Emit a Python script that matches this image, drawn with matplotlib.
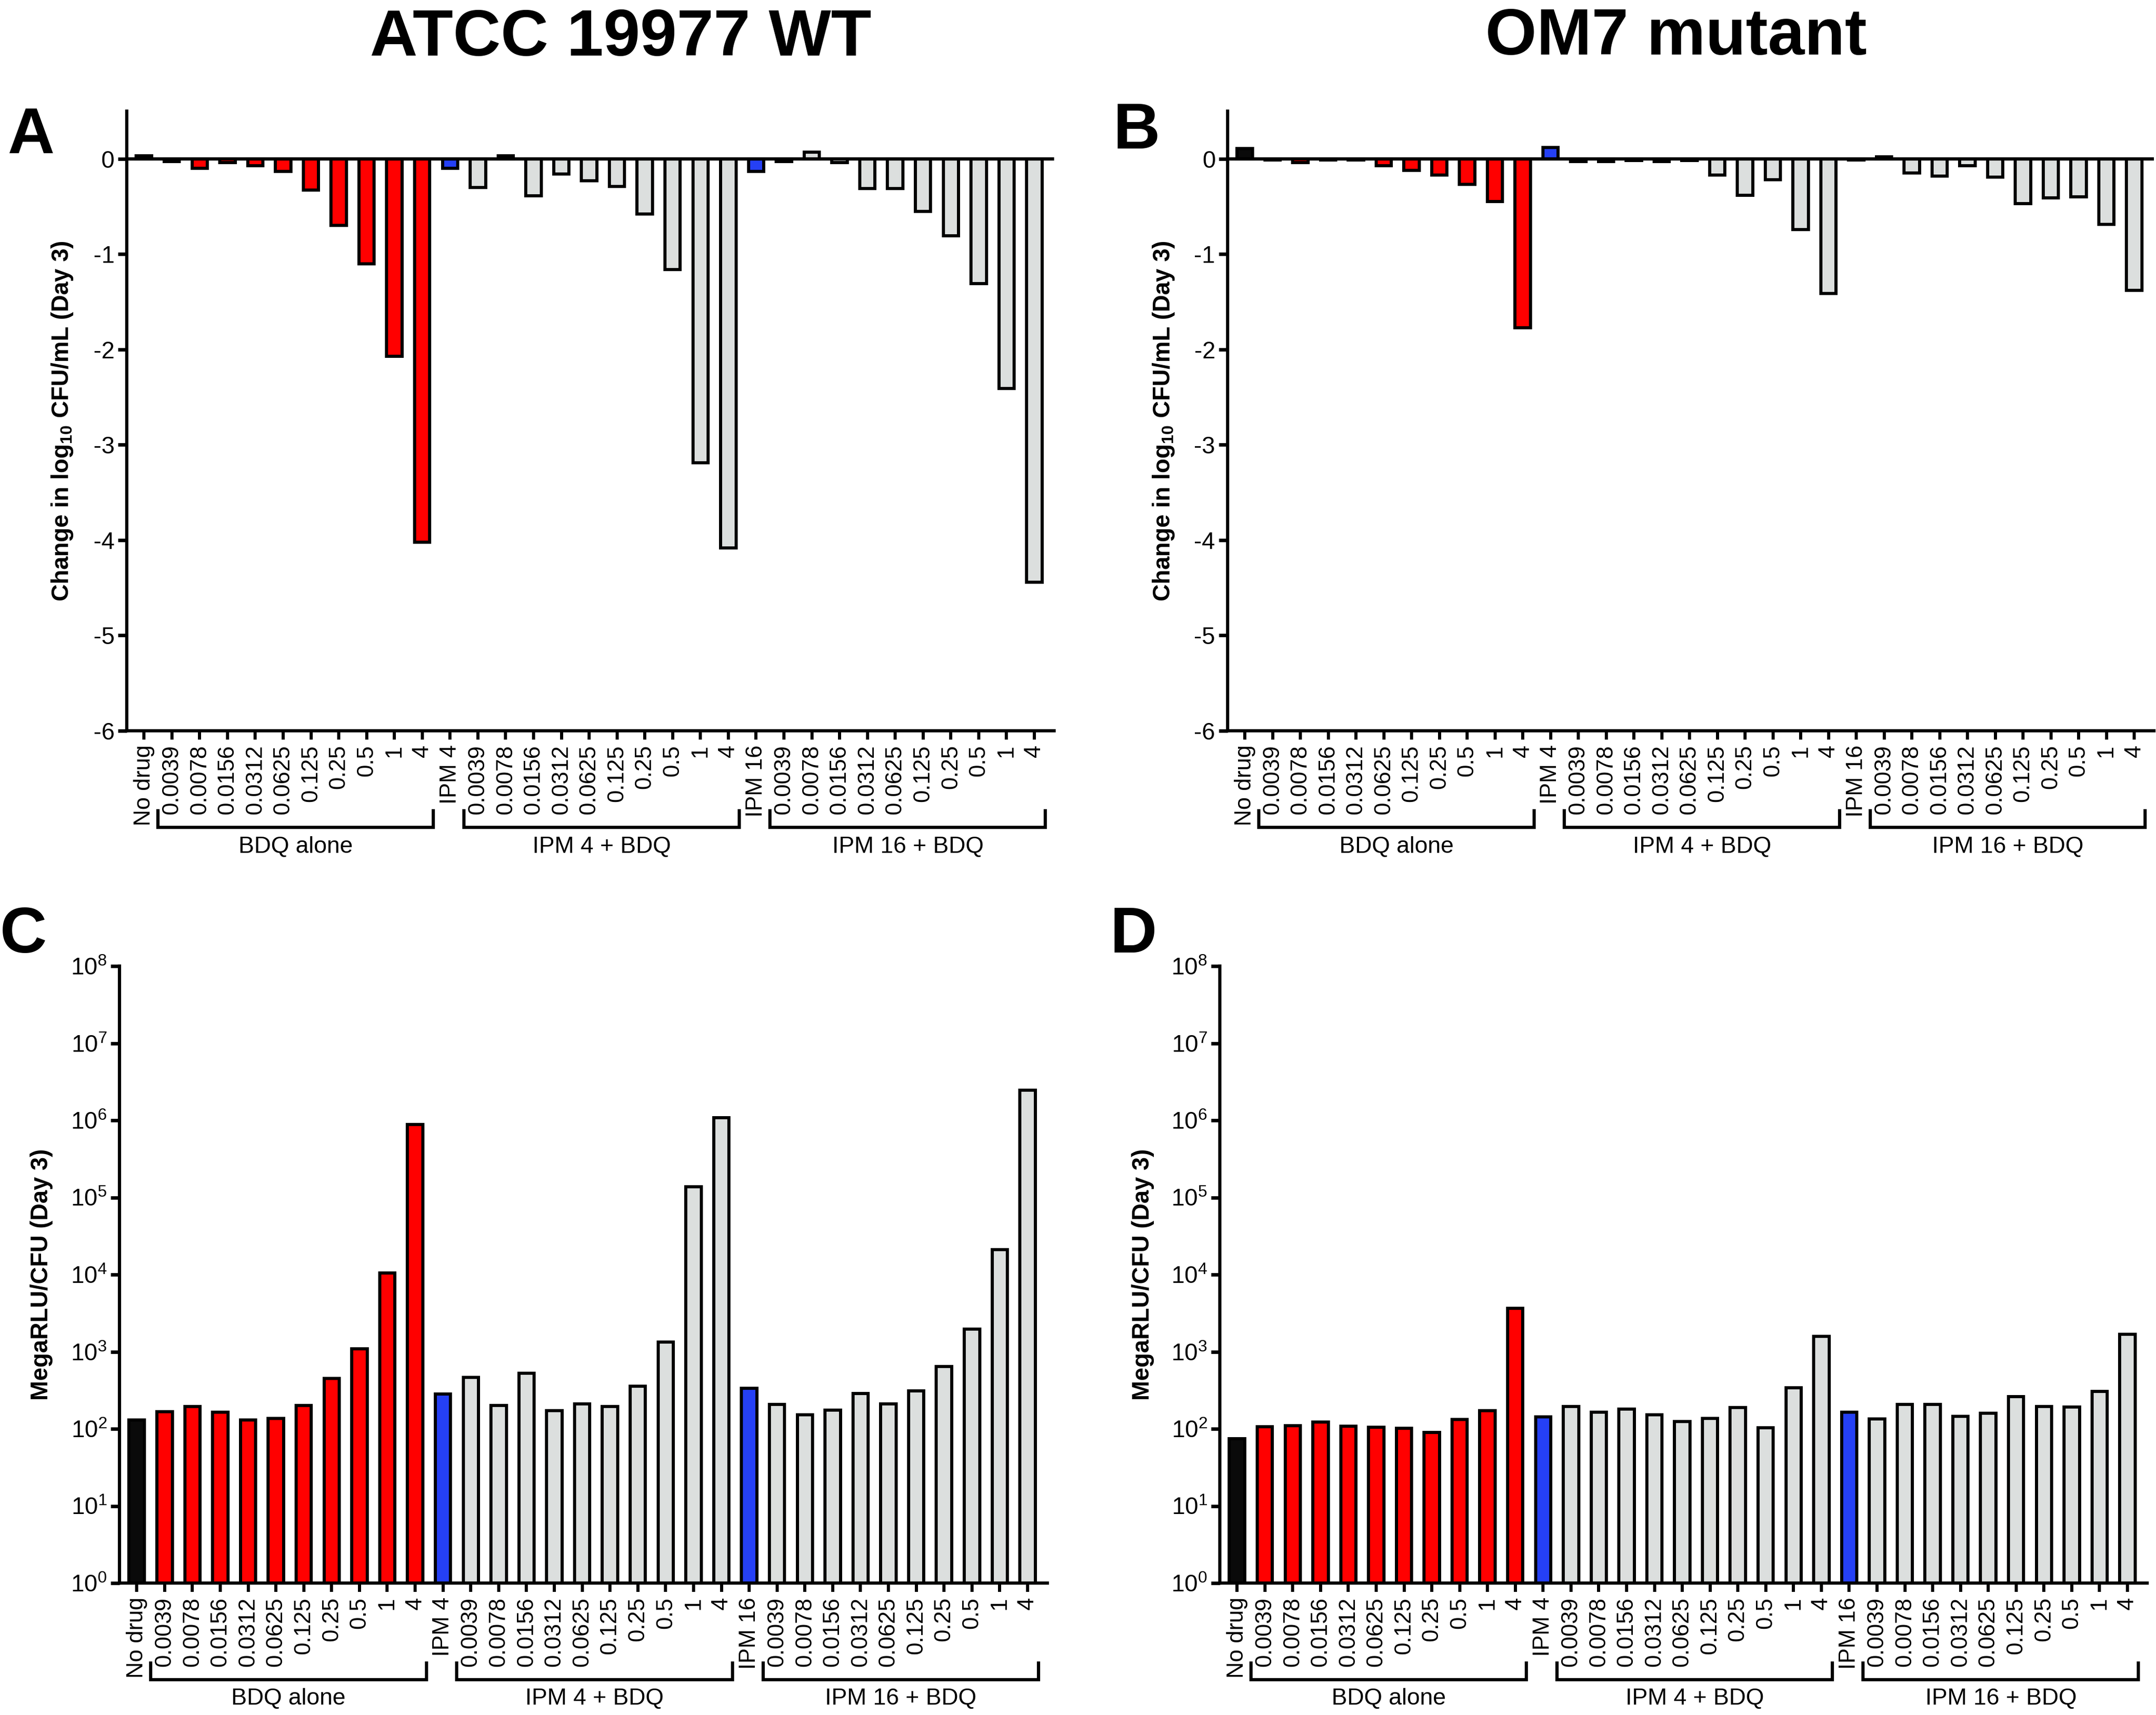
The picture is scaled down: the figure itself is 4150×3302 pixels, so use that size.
"""
Day-3 bedaquiline / imipenem response charts for ATCC 19977 WT and the OM7 mutant.

Top row: change in log10 CFU/mL, bottom row: MegaRLU/CFU on a log scale.
"""

import matplotlib
matplotlib.use("Agg")
import matplotlib.pyplot as plt
import numpy as np
from matplotlib.transforms import blended_transform_factory

plt.rcParams["font.family"] = ["Liberation Sans", "DejaVu Sans"]
plt.rcParams["mathtext.fontset"] = "custom"
plt.rcParams["mathtext.rm"] = "Liberation Sans"
plt.rcParams["mathtext.bf"] = "Liberation Sans:bold"
plt.rcParams["mathtext.it"] = "Liberation Sans:italic"
plt.rcParams["axes.unicode_minus"] = False

# Categories along the x axis
DOSES = ["0.0039", "0.0078", "0.0156", "0.0312", "0.0625",
         "0.125", "0.25", "0.5", "1", "4"]
CATEGORIES = ["No drug"] + DOSES + ["IPM 4"] + DOSES + ["IPM 16"] + DOSES
BAR_KIND = ["none"] + ["bdq"] * 10 + ["ipm"] + ["combo"] * 10 + ["ipm"] + ["combo"] * 10
GROUP_NAMES = ["BDQ alone", "IPM 4 + BDQ", "IPM 16 + BDQ"]
GROUP_FIRST = [1, 12, 23]
GROUP_LAST = [10, 21, 32]

KIND_COLORS = {"none": "#0a0a0a", "bdq": "#ff0000", "ipm": "#2540f5", "combo": "#dcdfde"}

# Change in log10 CFU/mL (Day 3)
wt_cfu_change = [0.03, -0.03, -0.10, -0.04, -0.07, -0.13, -0.33, -0.70, -1.10, -2.07, -4.02,
                 -0.10, -0.30, 0.03, -0.39, -0.16, -0.23, -0.29, -0.58, -1.16, -3.19, -4.08,
                 -0.13, -0.03, 0.07, -0.04, -0.31, -0.31, -0.55, -0.81, -1.31, -2.41, -4.44]
om7_cfu_change = [0.11, -0.01, -0.04, -0.01, -0.01, -0.07, -0.12, -0.17, -0.27, -0.45, -1.77,
                  0.12, -0.03, -0.03, -0.02, -0.03, -0.02, -0.17, -0.38, -0.22, -0.74, -1.41,
                  -0.01, 0.02, -0.15, -0.18, -0.07, -0.19, -0.47, -0.41, -0.40, -0.69, -1.38]

# MegaRLU/CFU (Day 3)
wt_rlu_per_cfu = [130, 166, 194, 163, 130, 136, 200, 450, 1096, 10500, 885000,
                  284, 464, 200, 525, 171, 212, 194, 357, 1339, 138000, 1080000,
                  336, 206, 151, 174, 288, 212, 311, 641, 1965, 21200, 2440000]
om7_rlu_per_cfu = [75, 106, 110, 122, 108, 105, 102, 90, 132, 171, 3630,
                   142, 194, 163, 179, 151, 124, 136, 188, 103, 341, 1585,
                   163, 134, 206, 206, 145, 158, 263, 194, 191, 307, 1685]

CFU_TICKS = [0, -1, -2, -3, -4, -5, -6]
CFU_TICK_LABELS = ["0", "-1", "-2", "-3", "-4", "-5", "-6"]
RLU_TICKS = [1e0, 1e1, 1e2, 1e3, 1e4, 1e5, 1e6, 1e7, 1e8]
RLU_TICK_LABELS = [r"$\mathregular{10^{%d}}$" % i for i in range(9)]

W_PX, H_PX, DPI = 4150, 3302, 300


def add_axes_px(fig, left, top, right, bottom):
    return fig.add_axes([left / W_PX, 1 - bottom / H_PX,
                         (right - left) / W_PX, (bottom - top) / H_PX])


def draw_panel(ax, values, log_scale, ylabel, label_x, height_px):
    x = np.arange(len(CATEGORIES))
    colors = [KIND_COLORS[k] for k in BAR_KIND]
    if log_scale:
        ax.set_yscale("log")
        ax.bar(x, np.array(values) - 1, bottom=1, width=0.55, color=colors,
               edgecolor="black", linewidth=1.45, zorder=2)
        ax.set_ylim(1, 1e8)
        ax.set_yticks(RLU_TICKS)
        ax.set_yticklabels(RLU_TICK_LABELS)
        ax.yaxis.set_minor_locator(matplotlib.ticker.NullLocator())
    else:
        ax.bar(x, values, width=0.55, color=colors, edgecolor="black",
               linewidth=1.45, zorder=2)
        ax.axhline(0, color="black", linewidth=1.5, zorder=3)
        ax.set_ylim(-6, 0.5)
        ax.set_yticks(CFU_TICKS)
        ax.set_yticklabels(CFU_TICK_LABELS)

    ax.set_xlim(-0.62, len(CATEGORIES) - 1 + 0.71)
    ax.set_xticks(x)
    ax.set_xticklabels(CATEGORIES, rotation=90, fontsize=10.5)
    ax.tick_params(axis="x", direction="out", length=4.1, width=1.45, pad=2.4)
    ax.tick_params(axis="y", direction="out", length=4.2, width=1.6, pad=1.5,
                   labelsize=11)

    for side in ["top", "right"]:
        ax.spines[side].set_visible(False)
    for side in ["left", "bottom"]:
        ax.spines[side].set_linewidth(1.5)

    ax.set_ylabel(ylabel, fontsize=11, fontweight="bold", va="center")
    ax.yaxis.set_label_coords(label_x, 0.5)

    # group brackets under the tick labels
    trans = blended_transform_factory(ax.transData, ax.transAxes)
    y_line = -186 / height_px
    y_tip = -154 / height_px
    y_text = -223 / height_px
    for name, first, last in zip(GROUP_NAMES, GROUP_FIRST, GROUP_LAST):
        x0, x1 = first - 0.5, last + 0.4
        ax.plot([x0, x0, x1, x1], [y_tip, y_line, y_line, y_tip], color="black",
                linewidth=1.5, transform=trans, clip_on=False,
                solid_joinstyle="miter")
        ax.text((x0 + x1) / 2, y_text, name, transform=trans, ha="center",
                va="center", fontsize=10.8)


fig = plt.figure(figsize=(W_PX / DPI, H_PX / DPI), dpi=DPI)

cfu_label = r"Change in log$_{\mathbf{10}}$ CFU/mL (Day 3)"
rlu_label = "MegaRLU/CFU (Day 3)"

ax_a = add_axes_px(fig, 244, 214, 2029, 1407)
draw_panel(ax_a, wt_cfu_change, False, cfu_label, -124 / 1785, 1193)
ax_b = add_axes_px(fig, 2363, 214, 4146, 1407)
draw_panel(ax_b, om7_cfu_change, False, cfu_label, -123 / 1783, 1193)
ax_c = add_axes_px(fig, 230, 1860, 2016, 3048)
draw_panel(ax_c, wt_rlu_per_cfu, True, rlu_label, -150 / 1786, 1188)
ax_d = add_axes_px(fig, 2348, 1860, 4133, 3048)
draw_panel(ax_d, om7_rlu_per_cfu, True, rlu_label, -148 / 1785, 1188)

# column titles and panel letters
fig.text(1195 / W_PX, 1 - 107 / H_PX, "ATCC 19977 WT", ha="center", va="baseline",
         fontsize=30.5, fontweight="bold")
fig.text(3226 / W_PX, 1 - 105 / H_PX, "OM7 mutant", ha="center", va="baseline",
         fontsize=30.5, fontweight="bold")
for letter, px, py in [("A", 60, 295), ("B", 2188, 286), ("C", 45, 1834), ("D", 2182, 1834)]:
    fig.text(px / W_PX, 1 - py / H_PX, letter, ha="center", va="baseline",
             fontsize=30, fontweight="bold")

fig.savefig("out.png", dpi=DPI)
plt.close(fig)
